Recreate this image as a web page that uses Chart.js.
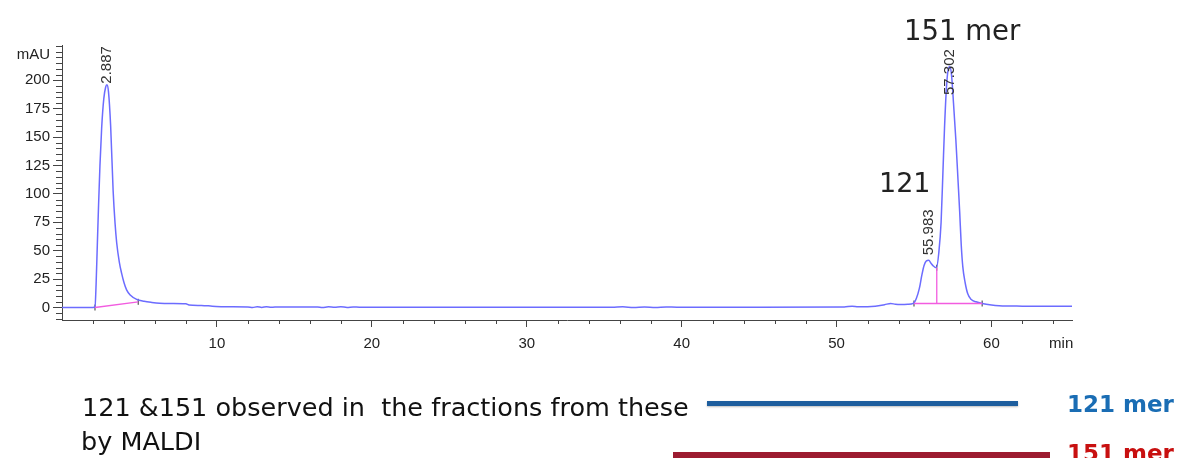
<!DOCTYPE html>
<html><head><meta charset="utf-8">
<script src="https://cdn.jsdelivr.net/npm/chart.js@4.4.1/dist/chart.umd.min.js"></script>
<style>
html,body{margin:0;padding:0;background:#fff;}
#wrap{position:relative;width:1177px;height:458px;overflow:hidden;background:#fff;}
#c{position:absolute;left:0;top:0;}
.t{position:absolute;white-space:pre;font-family:"DejaVu Sans";line-height:1;}
.bar{position:absolute;}
</style></head><body>
<div id="wrap">
<canvas id="c" width="1177" height="458"></canvas>
<div class="t" style="left:904px;top:17px;font-size:27.5px;color:#222;">151 mer</div>
<div class="t" style="left:879px;top:169px;font-size:27px;color:#222;">121</div>
<div class="t" style="left:82px;top:395px;font-size:25.5px;color:#111;">121 &amp;151 observed in  the fractions from these</div>
<div class="t" style="left:81px;top:429px;font-size:25.5px;color:#111;">by MALDI</div>
<div class="bar" style="left:707px;top:401px;width:311px;height:5px;background:#1e5e9e;box-shadow:0 1px 2px rgba(0,0,0,0.25);"></div>
<div class="t" style="left:1067px;top:393px;font-size:23px;font-weight:bold;color:#1a6db4;">121 mer</div>
<div class="bar" style="left:673px;top:452px;width:377px;height:7px;background:#9c1b30;"></div>
<div class="t" style="left:1067px;top:442px;font-size:23px;font-weight:bold;color:#c81010;">151 mer</div>
</div>
<script>
// ---- data (retention time in min, absorbance in mAU) ----
const retentionTimes = [0, 1.0, 2.0, 2.13, 2.2, 2.28, 2.36, 2.45, 2.56, 2.7, 2.82, 2.9, 3.0, 3.14, 3.3, 3.42, 3.53, 3.7, 3.85, 4.0, 4.17, 4.4, 4.82, 5.3, 5.8, 6.3, 7.0, 8.0, 8.2, 9.0, 9.7, 10.5,
  12.0, 12.3, 12.6, 12.9, 13.2, 13.5, 14.0, 14.5, 16.5, 16.8, 17.2, 17.6, 18.0, 18.4, 18.8, 19.2, 20, 25, 30,
  35.5, 36.2, 36.9, 37.6, 38.3, 39.0, 39.7, 45, 50.5, 51.0, 51.4, 52.5, 53.1, 53.5, 53.8, 54.2, 54.6,
  54.95, 55.15, 55.35, 55.5, 55.65, 55.8, 55.95, 56.1, 56.25, 56.45, 56.6, 56.75, 56.87, 56.97, 57.08, 57.18, 57.3, 57.42, 57.55,
  57.7, 57.85, 57.95, 58.05, 58.15, 58.3, 58.47, 58.7, 59.0, 59.4, 60.0, 60.5, 62, 63.5, 65.2];
const absorbance = [0, 0, 0, 0.5, 20, 55, 90, 125, 158, 184, 194, 196, 190, 160, 103, 75, 57, 40, 30, 22, 15.5, 11, 7.2, 5.5, 4.5, 3.8, 3.5, 3.2, 2.2, 1.8, 1.2, 0.6,
  0.5, 0.0, 0.7, 0.1, 0.6, 0.2, 0.5, 0.4, 0.4, 0.0, 0.6, 0.2, 0.6, 0.1, 0.5, 0.3, 0.3, 0.3, 0.2,
  0.2, 0.6, 0.0, 0.5, 0.1, 0.5, 0.3, 0.3, 0.4, 1.2, 0.6, 1.2, 2.5, 3.6, 2.8, 2.6, 2.8,
  3.6, 8, 17, 28, 37, 41, 41.5, 39, 36.5, 35, 48, 75, 120, 158, 190, 207, 212, 205, 180,
  148, 110, 84, 55, 36, 22, 12, 7, 5, 3.5, 2.2, 1.6, 1.2, 1.1, 1.1];

// integration baselines (pink) and event marks
const baseline1Times = [2.13, 4.92];   const baseline1Values = [0, 5];
const baseline2Times = [55.0, 59.4];   const baseline2Values = [3.5, 3.5];
const dropLineTimes = [56.47, 56.47];  const dropLineValues = [3.5, 35];
const eventTimes = [2.13, 4.92, 55.0, 56.47, 59.4];
const eventValues = [0, 5, 3.5, 35, 3.5];

// peak retention-time labels
const peakTimes = [2.887, 55.983, 57.302];
const peakLabels = ['2.887', '55.983', '57.302'];
const peakLabelValues = [197, 46, 187];

// axes
const yTickValues = [0, 25, 50, 75, 100, 125, 150, 175, 200];
const yTickLabels = ['0', '25', '50', '75', '100', '125', '150', '175', '200'];
const yUnitLabel = 'mAU';
const yUnitValue = 222;
const xTickValues = [10, 20, 30, 40, 50, 60];
const xTickLabels = ['10', '20', '30', '40', '50', '60'];
const xUnitLabel = 'min';
const xUnitValue = 64.5;
const yMin = -11, yMax = 231, xMin = 0, xMax = 65.2;
const yMinorStep = 5, xMinorStep = 2;

const pts = (xs, ys) => xs.map((x, i) => ({x, y: ys[i]}));

const axisColor = '#444';
const tickFont = {family: '"Liberation Sans", Arial, sans-serif', size: 15};

const overlay = {
  id: 'overlay',
  afterDraw(chart) {
    const {ctx, scales: {x, y}} = chart;
    ctx.save();
    ctx.strokeStyle = axisColor; ctx.lineWidth = 1;
    ctx.beginPath();
    for (let v = Math.ceil(yMin / yMinorStep) * yMinorStep; v <= yMax; v += yMinorStep) {
      if (yTickValues.includes(v)) continue;
      const py = Math.round(y.getPixelForValue(v)) + 0.5;
      ctx.moveTo(x.left - 6, py); ctx.lineTo(x.left, py);
    }
    for (let t = xMinorStep; t <= xMax; t += xMinorStep) {
      if (xTickValues.includes(t)) continue;
      const px = Math.round(x.getPixelForValue(t)) + 0.5;
      ctx.moveTo(px, y.bottom); ctx.lineTo(px, y.bottom + 4);
    }
    ctx.stroke();
    ctx.fillStyle = '#333';
    ctx.font = '15px "Liberation Sans", Arial, sans-serif';
    peakTimes.forEach((t, i) => {
      const px = x.getPixelForValue(t), py = y.getPixelForValue(peakLabelValues[i]);
      ctx.save();
      ctx.translate(px, py);
      ctx.rotate(-Math.PI / 2);
      ctx.textAlign = 'left'; ctx.textBaseline = 'middle';
      ctx.fillText(peakLabels[i], 0, 0);
      ctx.restore();
    });
    ctx.restore();
  }
};

new Chart(document.getElementById('c'), {
  type: 'scatter',
  data: {
    datasets: [
      {data: pts(baseline1Times, baseline1Values), showLine: true, borderColor: '#f25ce0', borderWidth: 1.3, pointRadius: 0},
      {data: pts(baseline2Times, baseline2Values), showLine: true, borderColor: '#f25ce0', borderWidth: 1.3, pointRadius: 0},
      {data: pts(dropLineTimes, dropLineValues), showLine: true, borderColor: '#f25ce0', borderWidth: 1.3, pointRadius: 0},
      {data: pts(retentionTimes, absorbance), showLine: true, borderColor: 'rgb(108,108,255)', borderWidth: 1.5,
       pointRadius: 0, cubicInterpolationMode: 'monotone'},
      {data: pts(eventTimes, eventValues), showLine: false, pointStyle: 'line', rotation: 90, radius: 3,
       borderColor: '#333', borderWidth: 1, backgroundColor: '#333'}
    ]
  },
  options: {
    responsive: false,
    animation: false,
    events: [],
    layout: {padding: {top: 45, right: 105, left: 0, bottom: 0}},
    plugins: {legend: {display: false}, tooltip: {enabled: false}},
    scales: {
      x: {
        type: 'linear', min: xMin, max: xMax,
        afterFit: s => { s.height = 138; },
        afterBuildTicks: s => { s.ticks = xTickValues.concat([xUnitValue]).map(v => ({value: v})); },
        ticks: {
          autoSkip: false, maxRotation: 0, padding: 8, color: '#222', font: tickFont,
          callback: v => { const i = xTickValues.indexOf(v); return i >= 0 ? xTickLabels[i] : xUnitLabel; }
        },
        grid: {drawOnChartArea: false, drawTicks: true, tickLength: 7,
          tickColor: c => (c.tick && c.tick.value === xUnitValue) ? 'rgba(0,0,0,0)' : axisColor},
        border: {display: true, color: axisColor, width: 1}
      },
      y: {
        type: 'linear', min: yMin, max: yMax,
        afterFit: s => { s.width = 62; },
        afterBuildTicks: s => { s.ticks = yTickValues.concat([yUnitValue]).map(v => ({value: v})); },
        ticks: {
          autoSkip: false, padding: 3, color: '#222', font: tickFont,
          callback: v => { const i = yTickValues.indexOf(v); return i >= 0 ? yTickLabels[i] : yUnitLabel; }
        },
        grid: {drawOnChartArea: false, drawTicks: true, tickLength: 9,
          tickColor: c => (c.tick && c.tick.value === yUnitValue) ? 'rgba(0,0,0,0)' : axisColor},
        border: {display: true, color: axisColor, width: 1}
      }
    }
  },
  plugins: [overlay]
});
</script>
</body></html>
